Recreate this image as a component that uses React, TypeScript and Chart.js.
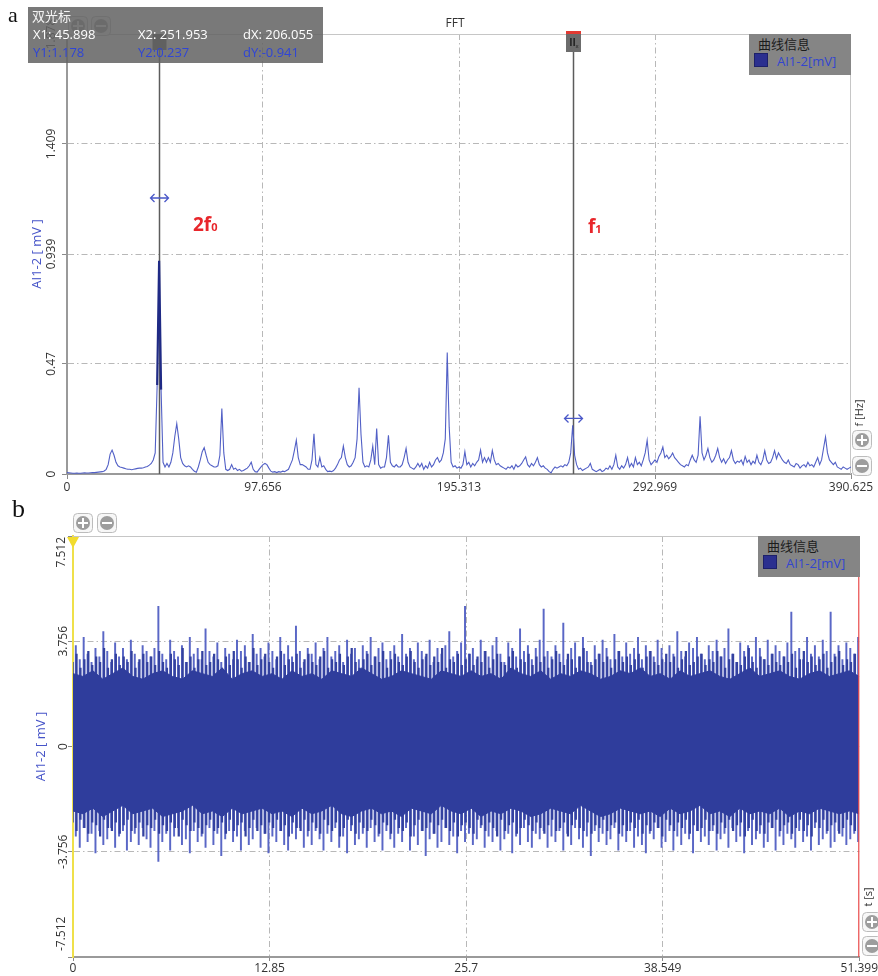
import React, { useEffect, useRef } from "react";
import { Chart, registerables } from "chart.js";
Chart.register(...registerables);

const FONT = "'Open Sans', 'Noto Sans CJK SC', sans-serif";
Chart.defaults.font.family = FONT;

// ---------- FFT (panel a) ----------
const FFT_STEP = 0.9765625;
const FFT_AMPS = [
  0.006,0.005,0.004,0.003,0.003,0.004,0.003,0.003,0.004,0.005,0.004,0.004,0.005,0.006,0.006,0.007,0.008,0.009,0.010,0.013,
  0.020,0.040,0.085,0.102,0.080,0.050,0.035,0.030,0.028,0.025,0.022,0.020,0.020,0.018,0.020,0.022,0.024,0.025,0.025,0.027,
  0.030,0.032,0.038,0.045,0.060,0.090,0.380,0.910,0.360,0.050,0.030,0.045,0.030,0.050,0.090,0.160,0.215,0.150,0.070,0.045,
  0.035,0.030,0.035,0.030,0.020,0.012,0.008,0.030,0.060,0.095,0.113,0.080,0.050,0.040,0.035,0.030,0.030,0.035,0.080,0.279,
  0.090,0.020,0.015,0.020,0.040,0.020,0.025,0.015,0.020,0.012,0.015,0.020,0.025,0.035,0.050,0.020,0.010,0.008,0.020,0.030,
  0.040,0.045,0.040,0.025,0.012,0.008,0.010,0.006,0.010,0.008,0.012,0.010,0.015,0.020,0.040,0.060,0.100,0.144,0.070,0.040,
  0.040,0.035,0.030,0.020,0.020,0.060,0.172,0.040,0.030,0.070,0.030,0.035,0.020,0.010,0.012,0.010,0.015,0.025,0.040,0.060,
  0.070,0.119,0.070,0.040,0.030,0.035,0.050,0.070,0.150,0.368,0.170,0.050,0.030,0.035,0.030,0.060,0.119,0.040,0.194,0.040,
  0.025,0.030,0.030,0.070,0.165,0.050,0.035,0.030,0.040,0.030,0.030,0.040,0.070,0.109,0.050,0.030,0.025,0.020,0.030,0.045,
  0.030,0.045,0.020,0.035,0.025,0.050,0.030,0.040,0.060,0.070,0.050,0.060,0.090,0.150,0.519,0.200,0.050,0.030,0.035,0.025,
  0.030,0.025,0.040,0.095,0.040,0.050,0.030,0.045,0.035,0.050,0.060,0.102,0.050,0.070,0.050,0.070,0.050,0.100,0.060,0.040,
  0.045,0.035,0.030,0.025,0.020,0.030,0.025,0.035,0.020,0.040,0.030,0.035,0.045,0.060,0.073,0.040,0.030,0.045,0.035,0.050,
  0.070,0.040,0.030,0.035,0.025,0.020,0.010,0.005,0.020,0.030,0.025,0.030,0.035,0.030,0.040,0.035,0.050,0.090,0.208,0.080,
  0.040,0.020,0.025,0.015,0.020,0.025,0.030,0.045,0.020,0.015,0.010,0.015,0.020,0.010,0.015,0.025,0.020,0.035,0.020,0.040,
  0.080,0.030,0.020,0.035,0.025,0.040,0.070,0.030,0.045,0.030,0.070,0.040,0.050,0.035,0.060,0.090,0.144,0.060,0.040,0.050,
  0.060,0.050,0.075,0.090,0.115,0.070,0.080,0.065,0.075,0.090,0.070,0.060,0.050,0.040,0.035,0.030,0.040,0.035,0.060,0.080,
  0.060,0.050,0.080,0.246,0.090,0.060,0.080,0.109,0.070,0.050,0.060,0.080,0.109,0.070,0.050,0.065,0.045,0.060,0.070,0.100,
  0.060,0.045,0.055,0.050,0.060,0.040,0.075,0.050,0.060,0.040,0.055,0.045,0.080,0.050,0.040,0.060,0.100,0.060,0.045,0.050,
  0.070,0.100,0.065,0.090,0.075,0.060,0.050,0.045,0.060,0.040,0.035,0.030,0.045,0.040,0.025,0.035,0.040,0.030,0.050,0.035,
  0.040,0.030,0.050,0.070,0.040,0.060,0.110,0.158,0.090,0.060,0.050,0.040,0.050,0.030,0.025,0.020,0.030,0.025,0.020,0.025,
  0.030,
];
const FFT_X_MAX = 390.625;
const FFT_Y_MAX = 1.878;
const FFT_X_TICKS = [0, 97.656, 195.313, 292.969, 390.625];
const FFT_Y_TICKS = [0, 0.47, 0.939, 1.409, 1.878];
const CURSOR_X1 = 45.898;
const CURSOR_X2 = 251.953;
const CURSOR_Y1 = 1.178;
const CURSOR_Y2 = 0.237;

// ---------- time signal (panel b) ----------
const T_MAX = 51.399;
const T_Y_MAX = 7.512;
const T_X_TICKS = [0, 12.85, 25.7, 38.549, 51.399];
const T_Y_TICKS = [-7.512, -3.756, 0, 3.756, 7.512];
const SPIKE_HI = [
  3.6,3.1,3.9,3.3,3.0,3.5,3.2,4.1,3.4,3.0,3.7,3.2,3.5,3.1,3.8,3.3,3.0,3.6,3.4,3.2,
  3.5,5.0,3.3,3.1,3.8,3.4,3.2,3.6,3.0,3.9,3.3,3.5,3.1,4.2,3.4,3.2,3.7,3.0,3.5,3.3,
  3.1,3.8,3.4,3.6,3.0,4.0,3.3,3.5,3.2,3.7,3.4,3.1,3.9,3.3,3.6,3.2,4.3,3.4,3.0,3.5,
  3.3,3.7,3.1,3.5,3.9,3.2,3.4,3.6,3.0,3.8,3.3,3.5,3.1,3.6,3.4,3.9,3.2,3.5,3.7,3.1,
  3.4,3.6,3.2,4.0,3.3,3.5,3.1,3.7,3.4,3.2,3.8,3.0,3.5,3.3,3.6,4.1,3.2,3.4,3.7,5.0,
  3.3,3.5,3.1,3.8,3.4,3.2,3.6,3.9,3.3,3.0,3.7,3.5,3.2,4.2,3.4,3.6,3.1,3.5,3.8,4.9,
  3.4,3.2,3.6,3.3,4.4,3.1,3.5,3.7,3.2,3.9,3.4,3.0,3.6,3.3,3.8,3.5,3.1,4.0,3.4,3.2,
  3.7,3.3,3.5,3.9,3.1,3.6,3.4,3.2,3.8,3.5,3.0,3.6,3.3,4.1,3.4,3.2,3.7,3.5,3.9,3.3,
  3.1,3.6,3.4,3.8,3.2,3.5,4.2,3.3,3.0,3.7,3.4,3.6,3.2,3.9,3.5,3.1,3.8,3.3,3.6,3.4,
  3.2,3.7,4.8,3.4,3.5,3.1,3.9,3.3,3.6,3.2,3.8,3.4,4.8,3.3,3.6,3.1,3.7,3.5,3.3,3.9,
];
const SPIKE_LO = [
  -3.2,-3.6,-2.9,-3.4,-3.1,-3.8,-3.0,-3.5,-3.3,-2.9,-3.6,-3.2,-3.0,-3.7,-3.4,-3.1,-3.5,-2.9,-3.3,-3.6,
  -3.0,-4.1,-3.4,-3.1,-3.7,-3.2,-2.9,-3.5,-3.3,-3.8,-3.0,-3.4,-3.2,-3.6,-2.9,-3.5,-3.1,-3.9,-3.3,-3.0,
  -3.4,-3.2,-3.7,-3.0,-3.5,-3.3,-2.9,-3.6,-3.1,-3.8,-3.2,-3.4,-3.0,-3.5,-3.7,-3.1,-3.3,-2.9,-3.6,-3.2,
  -3.5,-3.0,-3.3,-3.7,-3.1,-3.4,-2.9,-3.6,-3.2,-3.8,-3.0,-3.5,-3.3,-3.1,-3.6,-2.9,-3.4,-3.2,-3.7,-3.0,
  -3.3,-3.6,-3.1,-3.4,-2.9,-3.7,-3.2,-3.5,-3.0,-3.9,-3.3,-3.1,-3.6,-3.4,-2.9,-3.5,-3.2,-3.8,-3.0,-3.4,
  -3.1,-3.5,-3.3,-2.9,-3.6,-3.2,-3.4,-3.0,-3.7,-3.3,-3.1,-3.8,-3.2,-3.5,-2.9,-3.4,-3.6,-3.1,-3.3,-3.0,
  -3.6,-3.2,-3.4,-3.0,-3.7,-3.1,-3.5,-2.9,-3.3,-3.6,-3.2,-3.9,-3.0,-3.4,-3.1,-3.5,-3.3,-2.9,-3.7,-3.2,
  -3.4,-3.0,-3.6,-3.2,-3.5,-3.8,-3.1,-3.3,-2.9,-3.6,-3.4,-3.0,-3.7,-3.2,-3.5,-3.1,-3.3,-3.8,-3.0,-3.4,
  -3.2,-3.5,-3.0,-3.7,-3.3,-3.1,-3.6,-2.9,-3.4,-3.2,-3.8,-3.0,-3.5,-3.3,-3.1,-3.6,-3.4,-2.9,-3.7,-3.2,
  -3.5,-3.1,-3.3,-3.6,-3.0,-3.4,-3.2,-3.7,-2.9,-3.5,-3.3,-3.1,-3.6,-3.4,-3.0,-3.2,-3.5,-3.3,-3.1,-3.4,
];
const SPIKE_HI2 = [
  3.0,3.3,2.8,3.1,3.4,2.9,3.2,3.0,3.5,2.8,3.1,3.3,2.9,3.2,3.0,3.4,2.8,3.1,3.3,3.0,
  3.2,2.9,3.4,3.0,2.8,3.3,3.1,2.9,3.5,3.0,3.2,2.8,3.1,3.4,2.9,3.0,3.3,3.1,2.8,3.2,
  2.9,3.4,3.1,2.8,3.2,3.0,3.5,2.9,3.1,3.3,3.0,2.8,3.2,3.4,2.9,3.1,3.0,3.3,2.8,3.1,
  3.3,3.0,2.9,3.2,3.4,2.8,3.1,3.0,3.3,2.9,3.2,3.5,3.0,2.8,3.1,3.3,2.9,3.2,3.0,3.4,
  2.8,3.1,3.3,3.0,2.9,3.2,3.4,3.0,2.8,3.1,3.3,2.9,3.2,3.0,3.5,2.8,3.1,3.0,3.3,2.9,
  3.1,3.3,2.9,3.2,3.0,3.4,2.8,3.1,3.3,3.0,2.9,3.2,3.4,2.8,3.1,3.0,3.3,2.9,3.2,3.0,
  3.2,2.8,3.1,3.4,3.0,2.9,3.3,3.1,2.8,3.2,3.5,3.0,2.9,3.1,3.3,3.0,3.2,2.8,3.1,3.4,
  3.0,3.2,2.9,3.1,3.3,2.8,3.2,3.4,3.0,2.9,3.1,3.3,3.0,3.2,2.8,3.1,3.4,2.9,3.0,3.2,
  3.3,2.9,3.1,3.0,3.4,3.2,2.8,3.1,3.3,3.0,2.9,3.2,3.5,3.0,2.8,3.2,3.1,2.9,3.3,3.0,
  2.9,3.2,3.0,3.3,2.8,3.1,3.4,3.0,3.2,2.9,3.1,3.3,2.8,3.0,3.2,3.4,2.9,3.1,3.0,3.3,
];
const SPIKE_LO2 = [
  -2.7,-3.0,-2.6,-2.9,-3.1,-2.7,-2.8,-3.2,-2.6,-2.9,-3.0,-2.7,-3.1,-2.8,-2.6,-3.0,-2.9,-2.7,-3.2,-2.8,
  -2.9,-2.6,-3.1,-2.8,-3.0,-2.7,-2.9,-3.2,-2.6,-2.8,-3.0,-2.7,-2.9,-3.1,-2.8,-2.6,-3.0,-2.9,-2.7,-3.1,
  -2.6,-3.0,-2.8,-2.7,-3.2,-2.9,-2.6,-3.0,-2.8,-3.1,-2.7,-2.9,-2.6,-3.0,-2.8,-3.2,-2.7,-2.9,-3.0,-2.6,
  -3.0,-2.7,-2.9,-3.1,-2.6,-2.8,-3.0,-2.7,-3.2,-2.9,-2.6,-2.8,-3.1,-2.7,-2.9,-3.0,-2.6,-2.8,-3.1,-2.7,
  -2.8,-3.1,-2.6,-2.9,-3.0,-2.7,-3.2,-2.8,-2.6,-3.0,-2.9,-2.7,-3.1,-2.8,-2.6,-2.9,-3.0,-2.7,-3.2,-2.8,
  -2.7,-2.9,-3.1,-2.6,-2.8,-3.0,-2.7,-2.9,-3.2,-2.6,-3.0,-2.8,-2.7,-3.1,-2.9,-2.6,-2.8,-3.0,-2.7,-2.9,
  -3.1,-2.8,-2.6,-3.0,-2.9,-2.7,-3.2,-2.8,-2.6,-2.9,-3.0,-2.7,-3.1,-2.8,-2.9,-2.6,-3.0,-2.8,-2.7,-3.1,
  -2.8,-3.0,-2.7,-2.9,-2.6,-3.1,-2.8,-3.0,-2.7,-2.9,-3.2,-2.6,-2.8,-3.0,-2.7,-2.9,-2.6,-3.1,-2.8,-3.0,
  -2.9,-2.6,-3.0,-2.8,-3.1,-2.7,-2.9,-2.6,-3.0,-2.8,-2.7,-3.2,-2.9,-2.6,-3.0,-2.8,-3.1,-2.7,-2.9,-2.6,
  -3.0,-2.8,-2.7,-3.1,-2.9,-2.6,-3.0,-2.8,-3.2,-2.7,-2.9,-2.6,-3.0,-2.8,-2.7,-3.1,-2.9,-2.6,-2.8,-3.0,
];
const BAND_HI = [
  2.6,2.5,2.7,2.4,2.6,2.8,2.5,2.4,2.6,2.7,2.5,2.4,2.7,2.6,2.5,2.8,2.4,2.6,2.7,2.5,
  2.6,2.4,2.7,2.5,2.6,2.4,2.7,2.6,2.5,2.8,2.6,2.4,2.5,2.7,2.6,2.5,2.4,2.7,2.6,2.5,
  2.7,2.5,2.6,2.4,2.8,2.6,2.5,2.7,2.4,2.6,2.5,2.7,2.6,2.4,2.5,2.7,2.6,2.8,2.5,2.6,
  2.4,2.7,2.5,2.6,2.7,2.5,2.4,2.6,2.8,2.5,2.6,2.7,2.5,2.4,2.6,2.7,2.5,2.6,2.7,2.5,
];
const BAND_LO = [
  -2.3,-2.4,-2.2,-2.5,-2.3,-2.1,-2.4,-2.3,-2.2,-2.5,-2.4,-2.3,-2.1,-2.4,-2.3,-2.5,-2.2,-2.4,-2.3,-2.2,
  -2.4,-2.3,-2.5,-2.2,-2.4,-2.3,-2.1,-2.4,-2.5,-2.3,-2.2,-2.4,-2.3,-2.5,-2.2,-2.3,-2.4,-2.1,-2.3,-2.4,
  -2.2,-2.5,-2.3,-2.4,-2.2,-2.3,-2.5,-2.4,-2.2,-2.3,-2.4,-2.1,-2.3,-2.5,-2.4,-2.2,-2.3,-2.4,-2.3,-2.5,
  -2.2,-2.4,-2.3,-2.1,-2.4,-2.3,-2.5,-2.2,-2.4,-2.3,-2.4,-2.2,-2.5,-2.3,-2.4,-2.2,-2.3,-2.4,-2.3,-2.4,
];

const fmt = (v: number | string) => String(v);

const gridOpts = (n: number) => ({
  color: (c: any) => (c.index === 0 || c.index === n - 1 ? "rgba(0,0,0,0)" : "#b8b8b8"),
  lineWidth: 1,
  drawTicks: true,
  tickLength: 5,
  tickColor: "#8a8a8a",
  tickWidth: 1,
});

function drawArrow(ctx: CanvasRenderingContext2D, x: number, y: number) {
  ctx.save();
  ctx.strokeStyle = "#4a58c8";
  ctx.lineWidth = 1.3;
  ctx.beginPath();
  ctx.moveTo(x - 9, y);
  ctx.lineTo(x + 9, y);
  ctx.moveTo(x - 5, y - 4);
  ctx.lineTo(x - 9, y);
  ctx.lineTo(x - 5, y + 4);
  ctx.moveTo(x + 5, y - 4);
  ctx.lineTo(x + 9, y);
  ctx.lineTo(x + 5, y + 4);
  ctx.stroke();
  ctx.restore();
}

const fftPlugin = {
  id: "fftOverlay",
  beforeDatasetsDraw(chart: any) {
    const { ctx, chartArea: a, scales } = chart;
    const x = scales.x;
    ctx.save();
    ctx.strokeStyle = "#c6c6c6";
    ctx.lineWidth = 1;
    ctx.beginPath();
    ctx.moveTo(a.left, a.top + 0.5);
    ctx.lineTo(a.right, a.top + 0.5);
    ctx.moveTo(a.right - 0.5, a.top);
    ctx.lineTo(a.right - 0.5, a.bottom);
    ctx.stroke();
    [CURSOR_X1, CURSOR_X2].forEach((cv) => {
      const px = Math.round(x.getPixelForValue(cv)) + 0.5;
      ctx.strokeStyle = "#5c5c5c";
      ctx.lineWidth = 1.5;
      ctx.beginPath();
      ctx.moveTo(px, a.top);
      ctx.lineTo(px, a.bottom);
      ctx.stroke();
    });
    ctx.restore();
  },
  afterDatasetsDraw(chart: any) {
    const { ctx, chartArea: a, scales } = chart;
    const x = scales.x;
    const y = scales.y;
    const p1 = Math.round(x.getPixelForValue(CURSOR_X1)) + 0.5;
    const p2 = Math.round(x.getPixelForValue(CURSOR_X2)) + 0.5;
    ctx.save();
    ctx.fillStyle = "#505050";
    ctx.fillRect(p1 - 7, a.top, 14, 16);
    ctx.fillStyle = "#6c6c6c";
    ctx.fillRect(p2 - 7.5, a.top, 15, 18);
    ctx.fillStyle = "#e23a32";
    ctx.fillRect(p2 - 7.5, a.top - 3, 15, 3);
    ctx.fillStyle = "#1e1e1e";
    ctx.font = "bold 10px " + FONT;
    ctx.textAlign = "center";
    ctx.textBaseline = "middle";
    ctx.fillText("II", p2 - 1, a.top + 9);
    ctx.font = "6px " + FONT;
    ctx.fillText("x", p2 + 3.5, a.top + 12);
    ctx.restore();
    drawArrow(ctx, p1, y.getPixelForValue(CURSOR_Y1));
    drawArrow(ctx, p2, y.getPixelForValue(CURSOR_Y2));
  },
};

const timePlugin = {
  id: "timeOverlay",
  afterDatasetsDraw(chart: any) {
    const { ctx, chartArea: a, scales } = chart;
    ctx.save();
    ctx.strokeStyle = "#c6c6c6";
    ctx.lineWidth = 1;
    ctx.beginPath();
    ctx.moveTo(a.left, a.top + 0.5);
    ctx.lineTo(a.right, a.top + 0.5);
    ctx.stroke();
    ctx.strokeStyle = "#ea4a4a";
    ctx.lineWidth = 1.2;
    ctx.beginPath();
    ctx.moveTo(a.right - 0.5, a.top);
    ctx.lineTo(a.right - 0.5, a.bottom);
    ctx.stroke();
    ctx.fillStyle = "#f2dc2e";
    ctx.beginPath();
    ctx.moveTo(a.left - 6, a.top + 1);
    ctx.lineTo(a.left + 6, a.top + 1);
    ctx.lineTo(a.left, a.top + 12);
    ctx.closePath();
    ctx.fill();
    // end labels of y axis, shifted inside the axis range
    const y = scales.y;
    ctx.font = "12px " + FONT;
    ctx.fillStyle = "#333";
    ctx.textBaseline = "middle";
    const lx = a.left - 11;
    ctx.save();
    ctx.translate(lx, y.getPixelForValue(T_Y_MAX) + 1);
    ctx.rotate(-Math.PI / 2);
    ctx.textAlign = "right";
    ctx.fillText(fmt(T_Y_MAX), 0, 0);
    ctx.restore();
    ctx.save();
    ctx.translate(lx, y.getPixelForValue(-T_Y_MAX) - 6);
    ctx.rotate(-Math.PI / 2);
    ctx.textAlign = "left";
    ctx.fillText(fmt(-T_Y_MAX), 0, 0);
    ctx.restore();
    ctx.restore();
  },
};

const HL_BIN = Math.round(CURSOR_X1 / FFT_STEP);

function topConfig(): any {
  return {
    type: "line",
    data: {
      datasets: [
        {
          data: FFT_AMPS.map((v, i) => ({ x: i * FFT_STEP, y: v })),
          borderColor: "#5260c6",
          borderWidth: 1.1,
          pointRadius: 0,
          tension: 0,
          fill: false,
          segment: {
            borderColor: (c: any) => (c.p0DataIndex === HL_BIN - 1 || c.p0DataIndex === HL_BIN ? "#1f2a85" : undefined),
            borderWidth: (c: any) => (c.p0DataIndex === HL_BIN - 1 || c.p0DataIndex === HL_BIN ? 2.2 : undefined),
          },
        },
      ],
    },
    options: {
      responsive: false,
      animation: false,
      devicePixelRatio: 1,
      events: [],
      layout: { padding: { left: 25, right: 27, top: 34, bottom: 0 } },
      plugins: { legend: { display: false }, tooltip: { enabled: false } },
      scales: {
        x: {
          type: "linear",
          min: 0,
          max: FFT_X_MAX,
          afterBuildTicks: (s: any) => {
            s.ticks = FFT_X_TICKS.map((v) => ({ value: v }));
          },
          afterFit: (s: any) => {
            s.height = 26;
          },
          ticks: { callback: fmt, font: { size: 12 }, color: "#333", padding: 1, maxRotation: 0, autoSkip: false },
          grid: gridOpts(FFT_X_TICKS.length),
          border: { color: "#9a9a9a", width: 2, dash: [6, 3, 1.5, 3] },
        },
        y: {
          type: "linear",
          min: 0,
          max: FFT_Y_MAX,
          afterBuildTicks: (s: any) => {
            s.ticks = FFT_Y_TICKS.map((v) => ({ value: v }));
          },
          afterFit: (s: any) => {
            s.width = 42;
          },
          ticks: {
            callback: fmt,
            font: { size: 12 },
            color: "#333",
            padding: -5,
            minRotation: 90,
            maxRotation: 90,
            crossAlign: "center",
            autoSkip: false,
          },
          grid: gridOpts(FFT_Y_TICKS.length),
          border: { color: "#9a9a9a", width: 2, dash: [6, 3, 1.5, 3] },
          title: { display: true, text: "AI1-2 [ mV ]", color: "#4654c8", font: { size: 13 }, padding: { top: 4, bottom: 4 } },
        },
      },
    },
    plugins: [fftPlugin],
  };
}

function botConfig(): any {
  const bandX = (i: number) => (i * T_MAX) / (BAND_HI.length - 1);
  const step = T_MAX / SPIKE_HI.length;
  const step2 = T_MAX / SPIKE_HI2.length;
  return {
    type: "line",
    data: {
      datasets: [
        {
          data: BAND_HI.map((v, i) => ({ x: bandX(i), y: v })),
          borderColor: "#2f3d9c",
          backgroundColor: "#2f3d9c",
          borderWidth: 1,
          pointRadius: 0,
          fill: "+1",
          order: 0,
        },
        {
          data: BAND_LO.map((v, i) => ({ x: bandX(i), y: v })),
          borderColor: "#2f3d9c",
          borderWidth: 1,
          pointRadius: 0,
          fill: false,
          order: 0,
        },
        {
          type: "bar",
          data: SPIKE_HI2.map((v, i) => ({ x: (i + 0.1) * step2, y: [SPIKE_LO2[i], v] })),
          backgroundColor: "#33419f",
          borderWidth: 0,
          barThickness: 1.6,
          order: 1,
        },
        {
          type: "bar",
          data: SPIKE_HI.map((v, i) => ({ x: (i + 0.55) * step, y: [SPIKE_LO[i], v] })),
          backgroundColor: "#5a67c6",
          borderWidth: 0,
          barThickness: 1.3,
          order: 2,
        },
      ],
    },
    options: {
      responsive: false,
      animation: false,
      devicePixelRatio: 1,
      events: [],
      layout: { padding: { left: 29, right: 18, top: 36, bottom: 0 } },
      plugins: { legend: { display: false }, tooltip: { enabled: false } },
      scales: {
        x: {
          type: "linear",
          min: 0,
          max: T_MAX,
          offset: false,
          afterBuildTicks: (s: any) => {
            s.ticks = T_X_TICKS.map((v) => ({ value: v }));
          },
          afterFit: (s: any) => {
            s.height = 19;
          },
          ticks: { callback: fmt, font: { size: 12 }, color: "#333", padding: 0, maxRotation: 0, autoSkip: false },
          grid: { ...gridOpts(T_X_TICKS.length), tickLength: 4, offset: false },
          border: { color: "#9a9a9a", width: 2, dash: [6, 3, 1.5, 3] },
        },
        y: {
          type: "linear",
          min: -T_Y_MAX,
          max: T_Y_MAX,
          afterBuildTicks: (s: any) => {
            s.ticks = T_Y_TICKS.map((v) => ({ value: v }));
          },
          afterFit: (s: any) => {
            s.width = 44;
          },
          ticks: {
            callback: (v: number, i: number) => (i === 0 || i === T_Y_TICKS.length - 1 ? "" : fmt(v)),
            font: { size: 12 },
            color: "#333",
            padding: -13,
            minRotation: 90,
            maxRotation: 90,
            crossAlign: "center",
            autoSkip: false,
          },
          grid: gridOpts(T_Y_TICKS.length),
          border: { color: "#efe04a", width: 2, dash: [6, 3, 1.5, 3] },
          title: { display: true, text: "AI1-2 [ mV ]", color: "#4654c8", font: { size: 13 }, padding: { top: 4, bottom: 4 } },
        },
      },
    },
    plugins: [timePlugin],
  };
}

const Txt = ({ x, b, size = 13, color = "#222", weight = 400, family = FONT, k = 0.888, center = false, children }: any) => (
  <div
    style={{
      position: "absolute",
      left: x,
      top: b - k * size,
      fontSize: size,
      lineHeight: `${size}px`,
      color,
      fontWeight: weight,
      fontFamily: family,
      whiteSpace: "nowrap",
      transform: center ? "translateX(-50%)" : undefined,
    }}
  >
    {children}
  </div>
);

const RotTxt = ({ cx, cy, size = 11, color = "#333", children }: any) => (
  <div
    style={{
      position: "absolute",
      left: cx,
      top: cy,
      fontSize: size,
      lineHeight: `${size}px`,
      color,
      whiteSpace: "nowrap",
      transform: "translate(-50%,-50%) rotate(-90deg)",
    }}
  >
    {children}
  </div>
);

const ZoomBtn = ({ cx, cy, minus = false }: any) => (
  <svg style={{ position: "absolute", left: cx - 10, top: cy - 10 }} width={20} height={20}>
    <rect x={0.5} y={0.5} width={19} height={19} rx={4} fill="#f7f7f7" stroke="#bcbcbc" />
    <circle cx={10} cy={10} r={7} fill="#9d9d9d" />
    <rect x={5} y={9} width={10} height={2} fill="#ffffff" />
    {!minus && <rect x={9} y={5} width={2} height={10} fill="#ffffff" />}
  </svg>
);

const Legend = ({ left, top }: any) => (
  <div style={{ position: "absolute", left, top, width: 102, height: 41, background: "#858585" }}>
    <Txt x={9} b={16} size={13} color="#1c1c1c">曲线信息</Txt>
    <div style={{ position: "absolute", left: 5, top: 19, width: 12, height: 12, background: "#2b2f8f", border: "1px solid #1d206a" }} />
    <Txt x={28} b={33} size={13} color="#3245d0">AI1-2[mV]</Txt>
  </div>
);

export default function App() {
  const topRef = useRef<HTMLCanvasElement>(null);
  const botRef = useRef<HTMLCanvasElement>(null);
  useEffect(() => {
    const c1 = new Chart(topRef.current as HTMLCanvasElement, topConfig());
    const c2 = new Chart(botRef.current as HTMLCanvasElement, botConfig());
    return () => {
      c1.destroy();
      c2.destroy();
    };
  }, []);
  const red = "#e8262b";
  const blueTxt = "#2f45d6";
  return (
    <div style={{ position: "absolute", left: 0, top: 0, width: 878, height: 976, overflow: "hidden", background: "#fff", fontFamily: FONT }}>
      <canvas ref={topRef} width={878} height={500} style={{ position: "absolute", left: 0, top: 0, width: 878, height: 500 }} />
      <canvas ref={botRef} width={878} height={476} style={{ position: "absolute", left: 0, top: 500, width: 878, height: 476 }} />

      <Txt x={8} b={22} size={22} k={0.837} family="'Liberation Serif', 'DejaVu Serif', serif" color="#111">a</Txt>
      <Txt x={12} b={518} size={26} k={0.837} family="'Liberation Serif', 'DejaVu Serif', serif" color="#111">b</Txt>

      <Txt x={455} b={28} size={12} color="#333" center>FFT</Txt>

      <ZoomBtn cx={78} cy={26} />
      <ZoomBtn cx={101} cy={26} minus />

      <div style={{ position: "absolute", left: 28, top: 7, width: 295, height: 56, background: "rgba(99,99,99,0.86)" }}>
        <Txt x={4} b={15} size={13} color="#f4f4f4">双光标</Txt>
        <Txt x={5} b={33} size={13} color="#ffffff">X1: {CURSOR_X1}</Txt>
        <Txt x={110} b={33} size={13} color="#ffffff">X2: {CURSOR_X2}</Txt>
        <Txt x={215} b={33} size={13} color="#ffffff">dX: {(CURSOR_X2 - CURSOR_X1).toFixed(3)}</Txt>
        <Txt x={5} b={51} size={13} color={blueTxt}>Y1:{CURSOR_Y1}</Txt>
        <Txt x={110} b={51} size={13} color={blueTxt}>Y2:{CURSOR_Y2}</Txt>
        <Txt x={215} b={51} size={13} color={blueTxt}>dY:{(CURSOR_Y2 - CURSOR_Y1).toFixed(3)}</Txt>
      </div>

      <Legend left={749} top={34} />
      <Legend left={758} top={536} />

      <Txt x={193} b={232} size={19} weight={700} color={red}>
        2f<span style={{ fontSize: 11 }}>0</span>
      </Txt>
      <Txt x={588} b={234} size={19} weight={700} color={red}>
        f<span style={{ fontSize: 11 }}>1</span>
      </Txt>

      <RotTxt cx={858} cy={413} size={11}>f [Hz]</RotTxt>
      <ZoomBtn cx={862} cy={440} />
      <ZoomBtn cx={862} cy={466} minus />

      <ZoomBtn cx={83} cy={523} />
      <ZoomBtn cx={107} cy={523} minus />

      <RotTxt cx={867} cy={897} size={11}>t [s]</RotTxt>
      <ZoomBtn cx={872} cy={922} />
      <ZoomBtn cx={872} cy={946} minus />
    </div>
  );
}
